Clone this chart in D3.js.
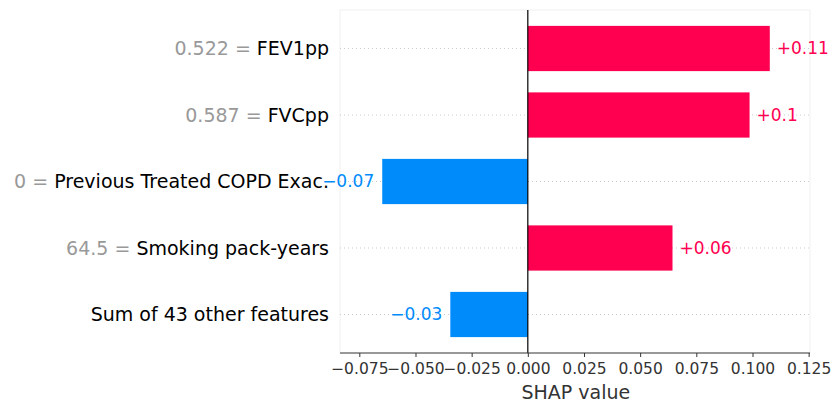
<!DOCTYPE html>
<html lang="en">
<head>
  <meta charset="UTF-8">
  <title>SHAP bar plot</title>
  <style>
    body { margin: 0; background: #fff; }
    text { font-family: "DejaVu Sans", sans-serif; }
  </style>
</head>
<body>
  <div id="chart"></div>

  <script src="https://d3js.org/d3.v7.min.js"></script>
  <script>
    const width = 832
    const height = 406

    const features = ['FEV1pp', 'FVCpp', 'Previous Treated COPD Exac.', 'Smoking pack-years', 'Sum of 43 other features']
    const featureValues = ['0.522', '0.587', '0', '64.5', null]
    const shapValues = [0.1077, 0.0987, -0.0648, 0.0644, -0.0345]
    const valueLabels = ['+0.11', '+0.1', '\u22120.07', '+0.06', '\u22120.03']
    const xTicks = [-0.075, -0.05, -0.025, 0, 0.025, 0.05, 0.075, 0.1, 0.125]

    const plot = { left: 340, right: 810, top: 10, bottom: 353 }
    const red = '#ff0051'
    const blue = '#008bfb'

    const svg = d3.select('#chart').append('svg')
      .attr('width', width)
      .attr('height', height)

    const x = d3.scaleLinear()
      .domain([-0.0836, 0.1256])
      .range([plot.left, plot.right])

    const y = d3.scalePoint()
      .domain(features)
      .range([plot.top, plot.bottom])
      .padding(0.579)

    const barH = y.step() * 0.68

    // faint frame (top, left, right)
    svg.append('path')
      .attr('d', `M${plot.left},${plot.bottom}V${plot.top}H${plot.right}V${plot.bottom}`)
      .attr('fill', 'none')
      .attr('stroke', '#f0f0f0')
      .attr('stroke-width', 1)

    // dotted grid lines at each row
    svg.append('g')
      .selectAll('line')
      .data(features)
      .join('line')
      .attr('x1', plot.left)
      .attr('x2', plot.right)
      .attr('y1', d => y(d))
      .attr('y2', d => y(d))
      .attr('stroke', '#cccccc')
      .attr('stroke-width', 1)
      .attr('stroke-dasharray', '1 3')

    // bars
    svg.append('g')
      .selectAll('rect')
      .data(shapValues)
      .join('rect')
      .attr('x', d => Math.min(x(0), x(d)))
      .attr('width', d => Math.abs(x(d) - x(0)))
      .attr('y', (d, i) => y(features[i]) - barH / 2)
      .attr('height', barH)
      .attr('fill', d => d >= 0 ? red : blue)

    // value labels next to bars
    svg.append('g')
      .selectAll('text')
      .data(shapValues)
      .join('text')
      .attr('x', d => d >= 0 ? x(d) + 7 : x(d) - 8)
      .attr('y', (d, i) => y(features[i]))
      .attr('dy', '0.35em')
      .attr('text-anchor', d => d >= 0 ? 'start' : 'end')
      .attr('fill', d => d >= 0 ? red : blue)
      .style('font-size', '17px')
      .text((d, i) => valueLabels[i])

    // zero line
    svg.append('line')
      .attr('x1', x(0))
      .attr('x2', x(0))
      .attr('y1', plot.top)
      .attr('y2', plot.bottom)
      .attr('stroke', '#000')
      .attr('stroke-width', 1.2)

    // feature labels on the left
    const labels = svg.append('g')
      .selectAll('text')
      .data(features)
      .join('text')
      .attr('x', 329)
      .attr('y', d => y(d))
      .attr('dy', '0.35em')
      .attr('text-anchor', 'end')
      .style('font-size', '19px')

    labels.filter((d, i) => featureValues[i] !== null)
      .append('tspan')
      .attr('fill', '#999999')
      .text((d) => featureValues[features.indexOf(d)] + ' = ')

    labels.append('tspan')
      .attr('fill', '#000')
      .text(d => d)

    // x axis
    const xAxis = d3.axisBottom(x)
      .tickValues(xTicks)
      .tickSize(4)
      .tickPadding(6)
      .tickFormat(d3.format('.3f'))

    const axisG = svg.append('g')
      .attr('transform', `translate(0, ${plot.bottom})`)
      .call(xAxis)

    axisG.select('.domain')
      .attr('stroke', '#333')
      .attr('d', `M${plot.left},0H${plot.right}`)
    axisG.selectAll('.tick line').attr('stroke', '#333')
    axisG.selectAll('.tick text')
      .attr('fill', '#333')
      .style('font-family', '"DejaVu Sans", sans-serif')
      .style('font-size', '15.5px')

    svg.append('text')
      .attr('x', x(0) + 48)
      .attr('y', 399)
      .attr('text-anchor', 'middle')
      .attr('fill', '#333')
      .style('font-size', '19px')
      .text('SHAP value')
  </script>
</body>
</html>
